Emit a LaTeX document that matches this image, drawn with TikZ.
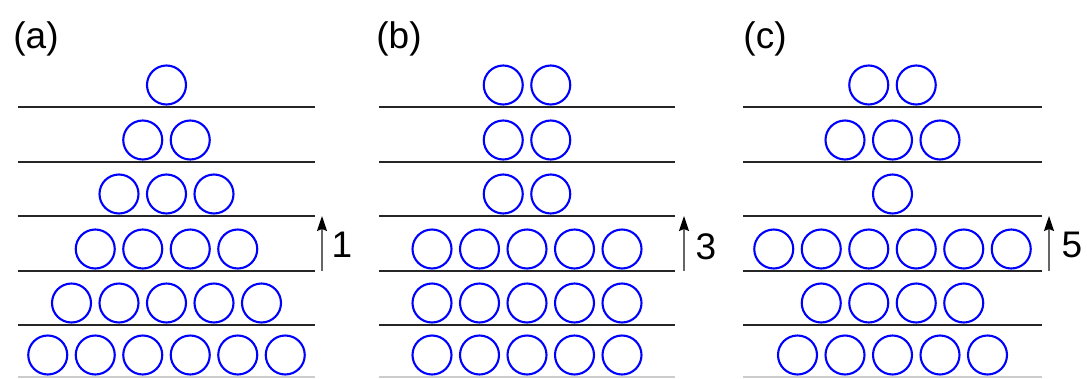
\documentclass[tikz,border=0pt]{standalone}
\usepackage{fontspec}
\setmainfont{Liberation Sans}
\usetikzlibrary{arrows.meta}

\tikzset{
  ball/.style={circle,draw=blue,line width=2.1pt,minimum size=39pt,inner sep=0pt},
  shelf/.style={line width=2pt,black!85},
  floor/.style={line width=1.2pt,black!20},
  lift/.style={-{Stealth[black,length=15pt,width=10pt,inset=2pt]},black!60,line width=1.5pt},
  tag/.style={font=\fontsize{37}{40}\selectfont},
  gap/.style={font=\fontsize{37}{40}\selectfont}
}

\begin{document}
\begin{tikzpicture}[x=1pt,y=-1pt]
  \useasboundingbox (0,0) rectangle (1087,378);

  % (a)
  \node[tag] (la) at (36,39) {(a)};
  \foreach \y in {107,162,216,271,325}
    \draw[shelf] (18,\y) -- (315,\y);
  \draw[floor] (18,377) -- (315,377);
  \foreach \n/\y [count=\r] in {1/85,2/140,3/194,4/249,5/303,6/355}
    \foreach \i in {1,...,\n}
      \node[ball] (a\r-\i) at ({166.5+(\i-(\n+1)/2)*47.5},\y) {};
  \coordinate (a-lo) at (322,271);
  \coordinate (a-hi) at (322,216);
  \draw[lift] (a-lo) -- (a-hi);
  \node[gap] (na) at (342,245) {1};

  % (b)
  \node[tag] (lb) at (399,39) {(b)};
  \foreach \y in {107,162,216,271,325}
    \draw[shelf] (379,\y) -- (675,\y);
  \draw[floor] (379,377) -- (675,377);
  \foreach \n/\y [count=\r] in {2/85,2/140,2/194,5/249,5/303,5/355}
    \foreach \i in {1,...,\n}
      \node[ball] (b\r-\i) at ({527+(\i-(\n+1)/2)*47.5},\y) {};
  \coordinate (b-lo) at (684,271);
  \coordinate (b-hi) at (684,216);
  \draw[lift] (b-lo) -- (b-hi);
  \node[gap] (nb) at (706,247) {3};

  % (c)
  \node[tag] (lc) at (765,39) {(c)};
  \foreach \y in {107,162,216,271,325}
    \draw[shelf] (743,\y) -- (1042,\y);
  \draw[floor] (743,377) -- (1042,377);
  \foreach \n/\y [count=\r] in {2/85,3/140,1/194,6/249,4/303,5/355}
    \foreach \i in {1,...,\n}
      \node[ball] (c\r-\i) at ({892.5+(\i-(\n+1)/2)*47.5},\y) {};
  \coordinate (c-lo) at (1049,271);
  \coordinate (c-hi) at (1049,216);
  \draw[lift] (c-lo) -- (c-hi);
  \node[gap] (nc) at (1072,245) {5};
\end{tikzpicture}
\end{document}
